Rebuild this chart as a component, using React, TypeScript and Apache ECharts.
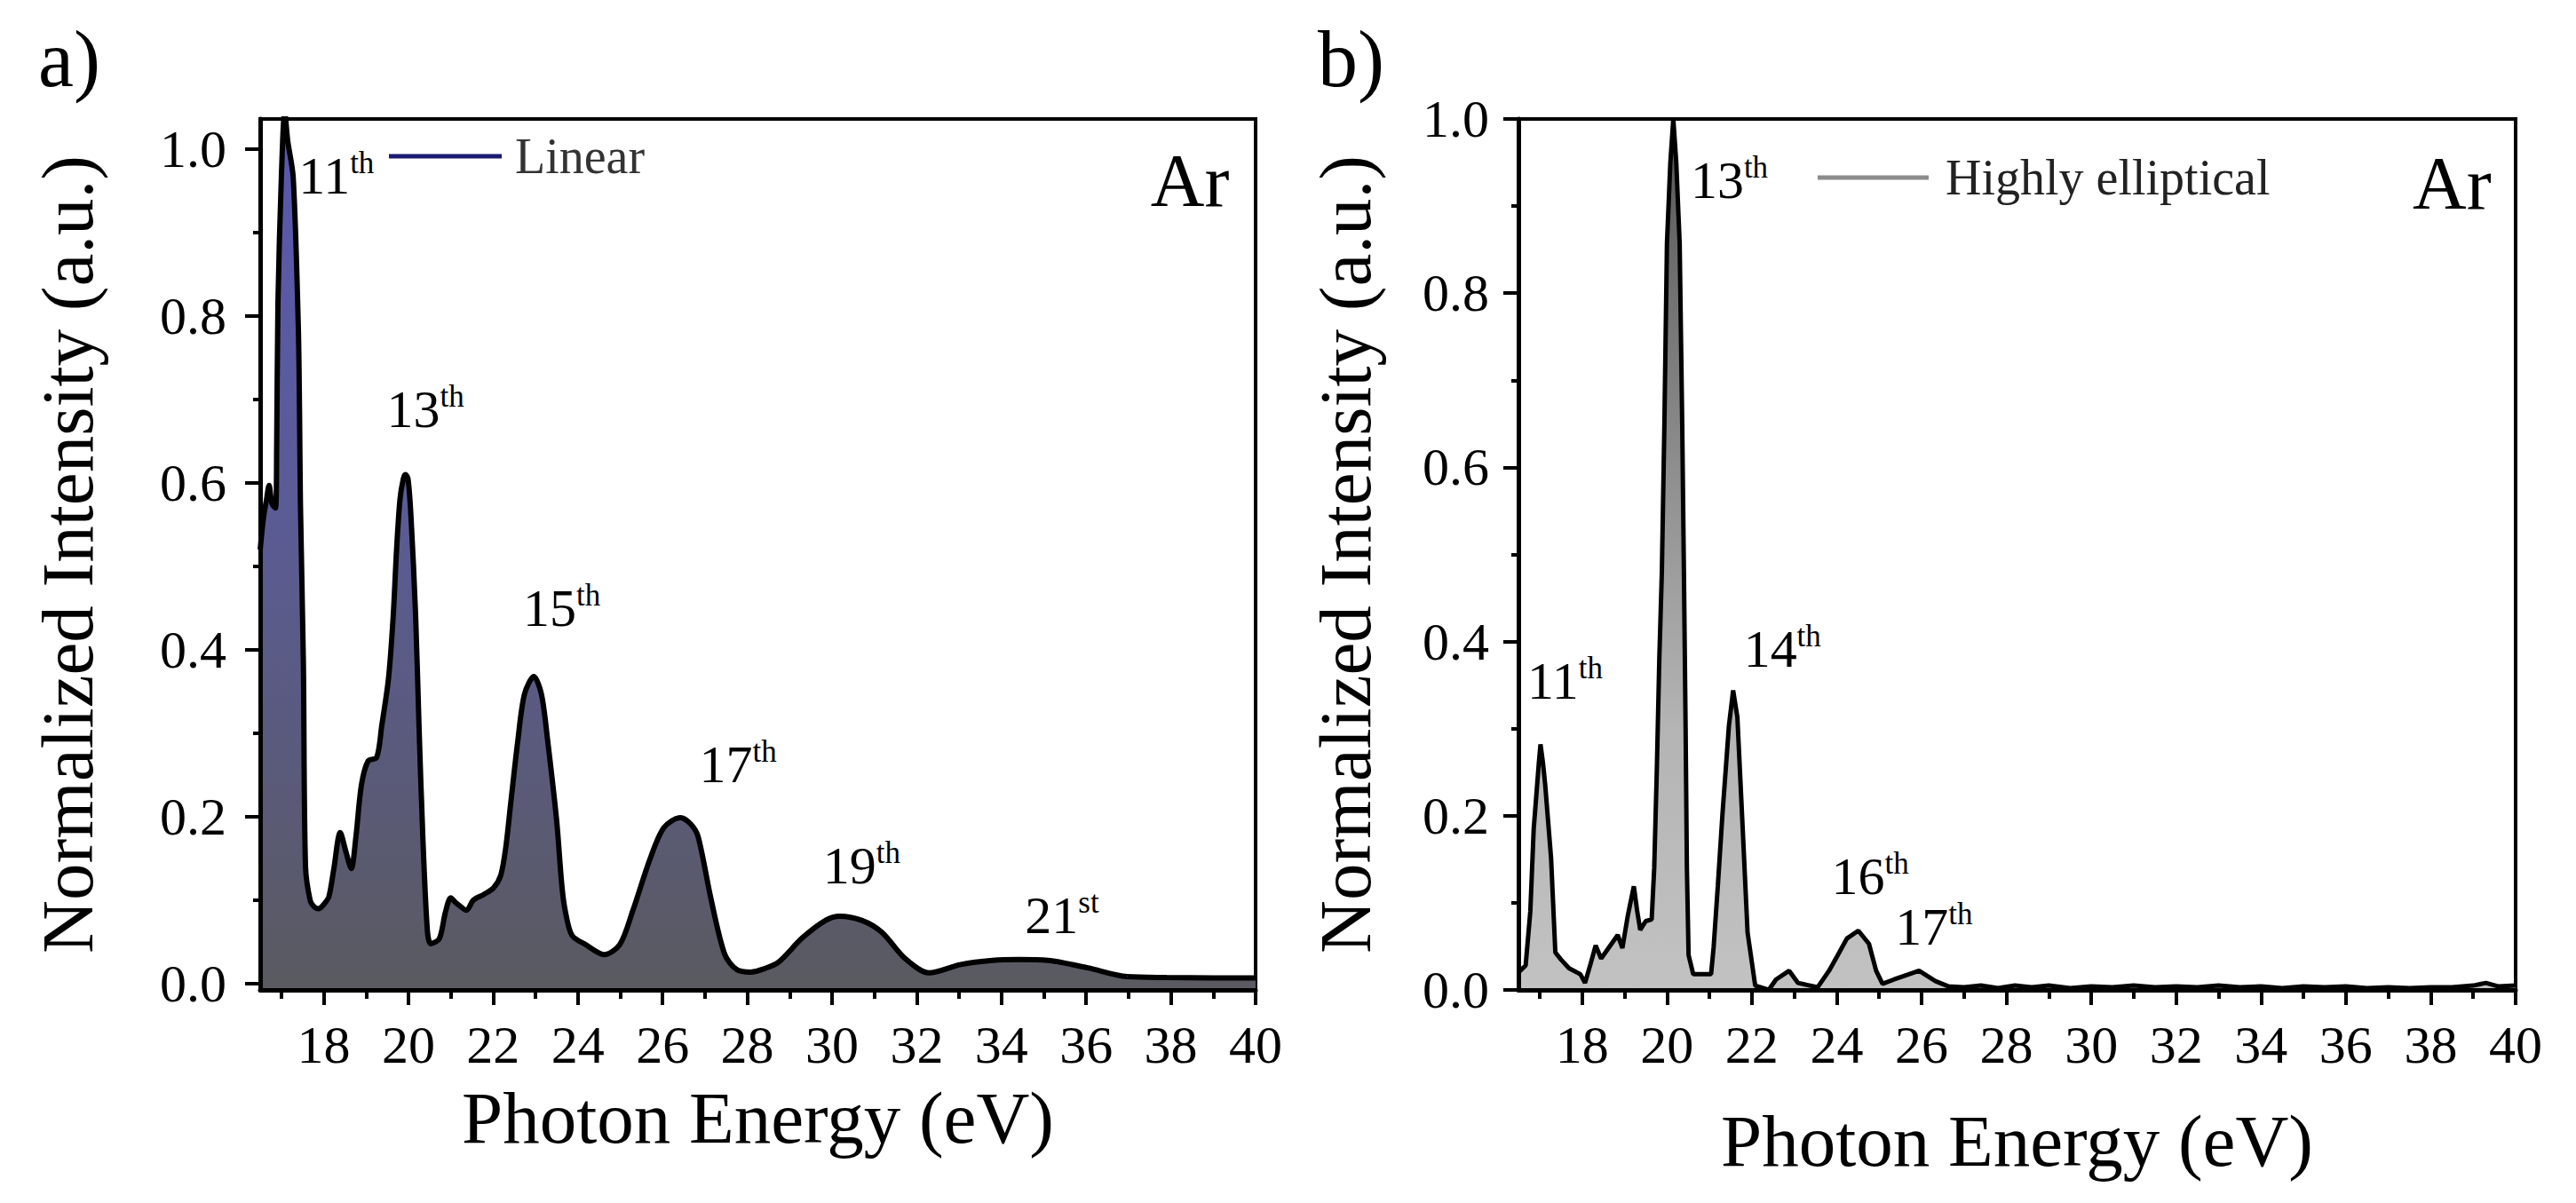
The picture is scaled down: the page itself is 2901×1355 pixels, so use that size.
import React, { useEffect, useRef } from "react";
import * as echarts from "echarts";

const FONT = '"Liberation Serif", "Times New Roman", serif';

// ---- axis ticks ----
const xTickLabels = [18, 20, 22, 24, 26, 28, 30, 32, 34, 36, 38, 40];
const xMinorTicks = [17, 19, 21, 23, 25, 27, 29, 31, 33, 35, 37, 39];
const yTickLabels = [0, 0.2, 0.4, 0.6, 0.8, 1.0];
const yMinorTicks = [0.1, 0.3, 0.5, 0.7, 0.9];

// ---- panel a) linear polarisation ----
const linearEnergy = [
  16.5, 16.58, 16.65, 16.71, 16.78, 16.86, 16.89, 16.92, 17.0, 17.08, 17.15, 17.28, 17.4, 17.43, 17.45,
  17.52, 17.57, 17.68, 17.78, 17.88, 18.0, 18.12, 18.24, 18.39, 18.53, 18.65, 18.76, 18.89, 19.05,
  19.25, 19.37, 19.53, 19.64, 19.72, 19.8, 19.88, 19.93, 19.99, 20.06, 20.17, 20.25, 20.34, 20.45,
  20.53, 20.73, 20.87, 21.0, 21.1, 21.22, 21.37, 21.53, 21.78, 22.01, 22.18, 22.3, 22.41, 22.58,
  22.74, 22.96, 23.14, 23.29, 23.5, 23.62, 23.7, 23.86, 24.18, 24.62, 24.99, 25.3, 25.7, 26.03,
  26.42, 26.67, 26.84, 27.15, 27.47, 27.75, 28.08, 28.4, 28.74, 29.3, 29.85, 30.18, 30.7, 31.17,
  31.73, 32.29, 33.04, 33.79, 34.4, 35.1, 36.04, 36.97, 37.9, 39.0, 40.0,
];
const linearIntensity = [
  0.52, 0.559, 0.58, 0.597, 0.575, 0.57, 0.647, 0.817, 0.966, 1.045, 1.01, 0.966, 0.788, 0.682, 0.576,
  0.385, 0.141, 0.1, 0.092, 0.09, 0.095, 0.104, 0.138, 0.181, 0.157, 0.138, 0.176, 0.238, 0.267,
  0.271, 0.309, 0.366, 0.44, 0.52, 0.58, 0.605, 0.61, 0.605, 0.56, 0.441, 0.309, 0.176, 0.062,
  0.048, 0.054, 0.085, 0.103, 0.098, 0.093, 0.088, 0.1, 0.107, 0.115, 0.13, 0.164, 0.214, 0.29,
  0.347, 0.368, 0.347, 0.29, 0.195, 0.119, 0.088, 0.058, 0.047, 0.035, 0.047, 0.088, 0.149, 0.187,
  0.199, 0.191, 0.176, 0.1, 0.035, 0.017, 0.014, 0.018, 0.026, 0.055, 0.076, 0.081, 0.076, 0.062,
  0.03, 0.013, 0.023, 0.028, 0.029, 0.028, 0.019, 0.0085, 0.0074, 0.007, 0.007,
];

// ---- panel b) highly elliptical polarisation ----
const ellipticalEnergy = [
  16.5, 16.54, 16.67, 16.78, 16.86, 16.98, 17.02, 17.08, 17.13, 17.27, 17.37, 17.5, 17.69, 17.96,
  18.07, 18.2, 18.32, 18.45, 18.65, 18.84, 18.95, 19.08, 19.22, 19.3, 19.37, 19.5, 19.64, 19.7,
  19.76, 19.82, 19.88, 19.94, 20.0, 20.08, 20.15, 20.22, 20.3, 20.36, 20.4, 20.44, 20.47, 20.51,
  20.62, 21.04, 21.1,
  21.2, 21.31, 21.46, 21.56, 21.66, 21.77, 21.9, 22.08, 22.4, 22.57, 22.88, 23.09, 23.55, 23.82,
  24.05, 24.24, 24.51, 24.76, 24.93, 25.08, 25.35, 25.64, 25.94, 26.33, 26.64, 27.0, 27.4, 27.8,
  28.2, 28.6, 29.0, 29.5, 30.0, 30.5, 31.0, 31.5, 32.0, 32.5, 33.0, 33.5, 34.0, 34.5, 35.0, 35.5,
  36.0, 36.5, 37.0, 37.5, 38.0, 38.5, 39.0, 39.3, 39.6, 40.0,
];
const ellipticalIntensity = [
  0.02, 0.022, 0.028, 0.09, 0.185, 0.26, 0.282, 0.26, 0.236, 0.151, 0.043, 0.035, 0.025, 0.018,
  0.008, 0.03, 0.051, 0.036, 0.05, 0.063, 0.048, 0.086, 0.119, 0.09, 0.069, 0.079, 0.081, 0.14,
  0.25, 0.38, 0.48, 0.65, 0.857, 0.95, 1.0, 0.95, 0.857, 0.65, 0.48, 0.3, 0.14, 0.04,
  0.018, 0.018, 0.049,
  0.12, 0.203, 0.303, 0.344, 0.313, 0.201, 0.066, 0.005, 0.0, 0.012, 0.022, 0.008, 0.003, 0.022,
  0.042, 0.059, 0.068, 0.053, 0.022, 0.007, 0.012, 0.017, 0.022, 0.01, 0.004, 0.003, 0.005, 0.002,
  0.005, 0.003, 0.005, 0.002, 0.004, 0.003, 0.005, 0.003, 0.004, 0.003, 0.005, 0.003, 0.004, 0.002, 0.004, 0.003,
  0.004, 0.002, 0.003, 0.002, 0.003, 0.003, 0.005, 0.008, 0.004, 0.005,
];

// ---- harmonic annotations ----
const linearOrders = ["11", "13", "15", "17", "19", "21"];
const linearSuffixes = ["th", "th", "th", "th", "th", "st"];
const linearLabelX = [18.3, 20.4, 23.62, 27.78, 30.7, 35.43];
const linearLabelY = [0.971, 0.691, 0.453, 0.266, 0.145, 0.085];

const ellipticalOrders = ["11", "13", "14", "16", "17"];
const ellipticalSuffixes = ["th", "th", "th", "th", "th"];
const ellipticalLabelX = [17.6, 21.47, 22.72, 24.79, 26.29];
const ellipticalLabelY = [0.358, 0.933, 0.395, 0.134, 0.075];

const gasLabel = "Ar";
const gasLabelX = [38.45, 38.5];
const gasLabelY = [0.962, 0.926];

const seriesNames = ["Linear", "Highly elliptical"];
const xTitle = "Photon Energy (eV)";
const yTitle = "Normalized Intensity (a.u.)";

function mainXAxis(grid: number, nameGap: number) {
  return {
    type: "value",
    gridIndex: grid,
    min: 16.5,
    max: 40,
    position: "bottom",
    z: 5,
    axisLine: { show: true, onZero: false, lineStyle: { color: "#000", width: 5 } },
    axisTick: { show: true, inside: false, length: 17, customValues: xTickLabels, lineStyle: { color: "#000", width: 4 } },
    axisLabel: {
      show: true,
      customValues: xTickLabels,
      margin: 32,
      fontSize: 60,
      lineHeight: 60,
      fontFamily: FONT,
      color: "#000",
    },
    splitLine: { show: false },
    name: xTitle,
    nameLocation: "middle",
    nameGap,
    nameTextStyle: { fontSize: 83, lineHeight: 83, fontFamily: FONT, color: "#000" },
  };
}

function minorXAxis(grid: number) {
  return {
    type: "value",
    gridIndex: grid,
    min: 16.5,
    max: 40,
    position: "bottom",
    z: 5,
    axisLine: { show: false, onZero: false },
    axisTick: { show: true, inside: false, length: 10, customValues: xMinorTicks, lineStyle: { color: "#000", width: 4 } },
    axisLabel: { show: false },
    splitLine: { show: false },
  };
}

function mainYAxis(grid: number, min: number, max: number, margin: number, nameGap: number) {
  return {
    type: "value",
    gridIndex: grid,
    min,
    max,
    position: "left",
    z: 5,
    axisLine: { show: true, onZero: false, lineStyle: { color: "#000", width: 5 } },
    axisTick: { show: true, inside: false, length: 17, customValues: yTickLabels, lineStyle: { color: "#000", width: 4 } },
    axisLabel: {
      show: true,
      customValues: yTickLabels,
      margin,
      fontSize: 60,
      lineHeight: 60,
      fontFamily: FONT,
      color: "#000",
      formatter: (v: number) => v.toFixed(1),
    },
    splitLine: { show: false },
    name: yTitle,
    nameLocation: "middle",
    nameGap,
    nameTextStyle: { fontSize: 83, lineHeight: 83, fontFamily: FONT, color: "#000" },
  };
}

function minorYAxis(grid: number, min: number, max: number) {
  return {
    type: "value",
    gridIndex: grid,
    min,
    max,
    position: "left",
    z: 5,
    axisLine: { show: false, onZero: false },
    axisTick: { show: true, inside: false, length: 8, customValues: yMinorTicks, lineStyle: { color: "#000", width: 4 } },
    axisLabel: { show: false },
    splitLine: { show: false },
  };
}

const richStyles = {
  n: { fontSize: 60, lineHeight: 64, fontFamily: FONT, color: "#000", opacity: 1 },
  s: { fontSize: 35, lineHeight: 35, verticalAlign: "top", fontFamily: FONT, color: "#000", opacity: 1 },
  ar: { fontSize: 84, lineHeight: 84, fontFamily: FONT, color: "#000", opacity: 1 },
};

function annotationData(orders: string[], suffixes: string[], xs: number[], ys: number[], gasIdx: number) {
  const items: any[] = orders.map((o, i) => ({ value: [xs[i], ys[i]], num: o, suf: suffixes[i] }));
  items.push({ value: [gasLabelX[gasIdx], gasLabelY[gasIdx]], num: gasLabel, suf: "", gas: true, label: { offset: [0, 0] } });
  return items;
}

function annotationSeries(xIdx: number, yIdx: number, data: any[]) {
  return {
    type: "scatter",
    xAxisIndex: xIdx,
    yAxisIndex: yIdx,
    symbol: "circle",
    symbolSize: 2,
    itemStyle: { color: "rgba(0,0,0,0)", opacity: 1 },
    silent: true,
    z: 6,
    data,
    label: {
      show: true,
      position: "inside",
      align: "center",
      verticalAlign: "middle",
      offset: [0, 3],
      color: "#000",
      opacity: 1,
      formatter: (p: any) => (p.data.gas ? `{ar|${p.data.num}}` : `{n|${p.data.num}}{s|${p.data.suf}}`),
      rich: richStyles,
    },
  };
}

export default function App() {
  const ref = useRef<HTMLDivElement>(null);

  useEffect(() => {
    if (!ref.current) return;
    const chart = echarts.init(ref.current, undefined, { renderer: "svg" });

    const linearPoints = linearEnergy.map((x, i) => [x, linearIntensity[i]]);
    const ellipticalPoints = ellipticalEnergy.map((x, i) => [x, ellipticalIntensity[i]]);

    const option: any = {
      animation: false,
      backgroundColor: "#fff",
      textStyle: { fontFamily: FONT },
      grid: [
        { left: 293, top: 134, width: 1121, height: 981, show: true, borderColor: "#000", borderWidth: 4, backgroundColor: "transparent" },
        { left: 1710, top: 134, width: 1123, height: 981, show: true, borderColor: "#000", borderWidth: 4, backgroundColor: "transparent" },
      ],
      xAxis: [mainXAxis(0, 102), minorXAxis(0), mainXAxis(1, 128), minorXAxis(1)],
      yAxis: [
        mainYAxis(0, -0.0074, 1.036, 38, 176),
        minorYAxis(0, -0.0074, 1.036),
        mainYAxis(1, 0, 1.0, 33, 154),
        minorYAxis(1, 0, 1.0),
      ],
      legend: [
        {
          data: [seriesNames[0]],
          left: 438,
          top: 148,
          padding: 0,
          icon: "rect",
          itemWidth: 127,
          itemHeight: 5,
          itemStyle: { borderWidth: 0 },
          selectedMode: false,
          textStyle: { fontFamily: FONT, fontSize: 56, color: "#333", padding: [0, 0, 0, 10] },
        },
        {
          data: [seriesNames[1]],
          left: 2047,
          top: 172,
          padding: 0,
          icon: "rect",
          itemWidth: 125,
          itemHeight: 5,
          itemStyle: { borderWidth: 0 },
          selectedMode: false,
          textStyle: { fontFamily: FONT, fontSize: 56, color: "#222", padding: [0, 0, 0, 14] },
        },
      ],
      graphic: [
        { type: "text", x: 43, y: 66, style: { text: "a)", fontSize: 90, fontFamily: FONT, fill: "#000", align: "left", verticalAlign: "middle" } },
        { type: "text", x: 1484, y: 66, style: { text: "b)", fontSize: 90, fontFamily: FONT, fill: "#000", align: "left", verticalAlign: "middle" } },
      ],
      series: [
        {
          type: "line",
          xAxisIndex: 0,
          yAxisIndex: 0,
          data: linearPoints,
          smooth: 0.3,
          symbol: "none",
          z: 2,
          lineStyle: { color: "#000", width: 6 },
          areaStyle: {
            origin: "start",
            opacity: 1,
            color: new echarts.graphic.LinearGradient(0, 0, 0, 1, [
              { offset: 0, color: "#5858b0" },
              { offset: 0.45, color: "#5b5b96" },
              { offset: 0.75, color: "#5a5a7a" },
              { offset: 1, color: "#5a5a60" },
            ]),
          },
        },
        {
          type: "line",
          xAxisIndex: 2,
          yAxisIndex: 2,
          data: ellipticalPoints,
          smooth: false,
          symbol: "none",
          z: 2,
          lineStyle: { color: "#000", width: 5 },
          areaStyle: {
            origin: "start",
            opacity: 1,
            color: new echarts.graphic.LinearGradient(0, 0, 0, 1, [
              { offset: 0, color: "#555555" },
              { offset: 0.4, color: "#8e8e8e" },
              { offset: 0.7, color: "#b4b4b4" },
              { offset: 1, color: "#c2c2c2" },
            ]),
          },
        },
        annotationSeries(0, 0, annotationData(linearOrders, linearSuffixes, linearLabelX, linearLabelY, 0)),
        annotationSeries(2, 2, annotationData(ellipticalOrders, ellipticalSuffixes, ellipticalLabelX, ellipticalLabelY, 1)),
        {
          name: seriesNames[0],
          type: "line",
          xAxisIndex: 0,
          yAxisIndex: 0,
          data: [],
          itemStyle: { color: "#1a1a70" },
          lineStyle: { color: "#1a1a70" },
        },
        {
          name: seriesNames[1],
          type: "line",
          xAxisIndex: 2,
          yAxisIndex: 2,
          data: [],
          itemStyle: { color: "#8c8c8c" },
          lineStyle: { color: "#8c8c8c" },
        },
      ],
    };

    chart.setOption(option);
    return () => chart.dispose();
  }, []);

  return (
    <div
      ref={ref}
      style={{ position: "absolute", left: 0, top: 0, width: 2901, height: 1355, background: "#fff" }}
    />
  );
}
